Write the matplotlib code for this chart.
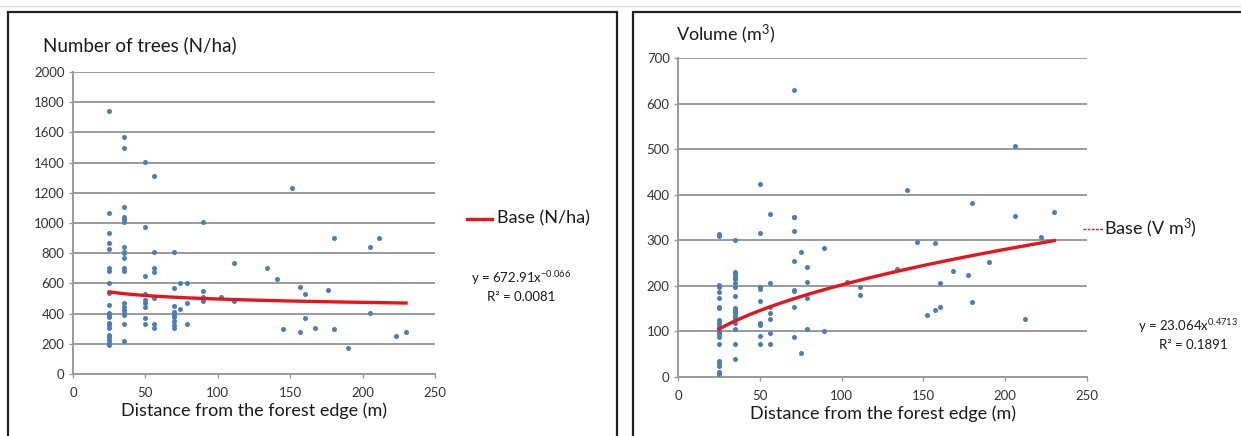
import matplotlib
matplotlib.use("Agg")
import matplotlib.pyplot as plt
from matplotlib.patches import Rectangle
from matplotlib.lines import Line2D
import numpy as np

plt.rcParams['font.family'] = ['Lato', 'DejaVu Sans']
plt.rcParams['mathtext.fontset'] = 'custom'
plt.rcParams['mathtext.rm'] = 'Lato'
plt.rcParams['mathtext.it'] = 'Lato:italic'
plt.rcParams['mathtext.bf'] = 'Lato:bold'
plt.rcParams['mathtext.default'] = 'regular'

# ---- Data: Number of trees (N/ha) vs distance ----
n_x25 = [1740, 1068, 935, 869, 827, 700, 684, 604, 534, 457, 406, 393, 379, 336, 324, 306, 258, 243, 225, 207, 190]
n_x35 = [1571, 1498, 1108, 1041, 1024, 1008, 843, 810, 799, 768, 700, 684, 472, 446, 425, 406, 391, 329, 220]
n_x50 = [1406, 975, 651, 528, 490, 468, 442, 369, 329]
n_x56 = [1309, 810, 700, 673, 505, 329, 302]
n_x70 = [810, 567, 452, 408, 390, 379, 353, 324, 302]
n_other_x = [74, 74, 79, 79, 79, 90, 90, 90, 90, 102, 111, 111, 134, 141, 145, 151, 157, 157, 160, 160,
             167, 176, 180, 180, 190, 205, 205, 211, 223, 230]
n_other_y = [604, 428, 604, 468, 329, 1008, 551, 512, 485, 512, 737, 485, 702, 627, 296, 1233, 578, 278, 528, 371,
             305, 554, 900, 296, 172, 843, 402, 900, 254, 278]

# ---- Data: Volume (m3) vs distance ----
v_x25 = [314, 309, 201, 198, 187, 173, 153, 151, 125, 118, 112, 99, 94, 88, 72, 36, 30, 24, 10, 7]
v_x35 = [301, 230, 226, 220, 214, 207, 198, 178, 151, 147, 143, 140, 134, 129, 118, 105, 72, 39]
v_x50 = [424, 315, 197, 194, 167, 118, 114, 90, 72]
v_x56 = [358, 207, 154, 141, 127, 96, 72]
v_x71 = [629, 352, 350, 321, 255, 191, 189, 154, 87]
v_other_x = [75, 75, 79, 79, 79, 79, 89, 89, 103, 111, 111, 134, 140, 146, 152, 157, 157, 160, 160,
             168, 177, 180, 180, 190, 206, 206, 212, 222, 230]
v_other_y = [275, 52, 241, 209, 173, 105, 284, 102, 208, 198, 181, 236, 410, 296, 135, 293, 147, 206, 153,
             233, 224, 381, 164, 252, 506, 353, 127, 307, 361]

# Trend parameters (power fits, as printed)
n_a, n_b = 672.91, -0.066
v_a, v_b = 23.064, 0.4713
trend_range = (25, 230)


def build(groups, ox, oy):
    xs, ys = [], []
    for xv, vals in groups:
        xs += [xv] * len(vals)
        ys += vals
    return xs + ox, ys + oy


nx, ny = build([(25, n_x25), (35, n_x35), (50, n_x50), (56, n_x56), (70, n_x70)], n_other_x, n_other_y)
vx, vy = build([(25, v_x25), (35, v_x35), (50, v_x50), (56, v_x56), (71, v_x71)], v_other_x, v_other_y)

W, H = 1241, 436
fig = plt.figure(figsize=(W / 100, H / 100), dpi=100)

# panel frames
fig.add_artist(Rectangle((8 / W, -0.05), (617 - 8) / W, 1.05 - 12 / H, transform=fig.transFigure,
                         fill=False, edgecolor='#222222', linewidth=1.6))
fig.add_artist(Rectangle((633 / W, -0.05), (1250 - 633) / W, 1.05 - 12 / H, transform=fig.transFigure,
                         fill=False, edgecolor='#222222', linewidth=1.6))
fig.add_artist(Line2D([0, 1], [1 - 6 / H, 1 - 6 / H], color='#dddddd', linewidth=1))

dot_color = '#4a7ebb'
red = '#e8141b'
grid_col = '#9a9a9a'
txt = '#1a1a1a'


def style(ax, ymax, ystep):
    ax.set_xlim(0, 250)
    ax.set_ylim(0, ymax)
    ax.set_xticks(np.arange(0, 251, 50))
    ax.set_yticks(np.arange(0, ymax + 1, ystep))
    ax.yaxis.grid(True, color=grid_col, linewidth=1.4)
    ax.set_axisbelow(True)
    for s in ['top', 'right']:
        ax.spines[s].set_visible(False)
    for s in ['left', 'bottom']:
        ax.spines[s].set_color(grid_col)
        ax.spines[s].set_linewidth(1.4)
    ax.tick_params(axis='both', labelsize=9.5, labelcolor='#333333', length=3, width=1, color=grid_col)
    ax.tick_params(axis='x', pad=6)
    ax.tick_params(axis='y', pad=3)
    ax.set_xlabel('Distance from the forest edge (m)', fontsize=13, labelpad=3, color=txt)


tx = np.linspace(*trend_range, 200)

# Left panel
ax1 = fig.add_axes([73 / W, 1 - 374 / H, (435 - 73) / W, (374 - 72) / H])
style(ax1, 2000, 200)
ax1.scatter(nx, ny, s=13, color=dot_color, zorder=3, linewidths=0)
ax1.plot(tx, n_a * tx ** n_b, color=red, linewidth=2.4, zorder=4)
fig.text(43 / W, 1 - 45 / H, 'Number of trees (N/ha)', fontsize=13.5, va='center', ha='left', color=txt)
fig.add_artist(Line2D([467 / W, 492 / W], [1 - 219 / H, 1 - 219 / H], color=red, linewidth=2.4))
fig.text(497 / W, 1 - 218 / H, 'Base (N/ha)', fontsize=13, va='center', ha='left', color=txt)
fig.text(521 / W, 1 - 278 / H, 'y = 672.91x$^{-0.066}$', fontsize=9.5, va='center', ha='center', color=txt)
fig.text(521 / W, 1 - 297 / H, 'R² = 0.0081', fontsize=9.5, va='center', ha='center', color=txt)

# Right panel
ax2 = fig.add_axes([678 / W, 1 - 377 / H, (1087 - 678) / W, (377 - 58) / H])
style(ax2, 700, 100)
ax2.scatter(vx, vy, s=13, color=dot_color, zorder=3, linewidths=0)
ax2.plot(tx, v_a * tx ** v_b, color=red, linewidth=2.4, zorder=4)
fig.text(676 / W, 1 - 34 / H, 'Volume (m$^3$)', fontsize=13, va='center', ha='left', color=txt)
fig.add_artist(Line2D([1083 / W, 1103 / W], [1 - 229 / H, 1 - 229 / H], color=red, linewidth=1,
                      linestyle=(0, (2, 1))))
fig.text(1104 / W, 1 - 228 / H, 'Base (V m$^3$)', fontsize=13, va='center', ha='left', color=txt)
fig.text(1188 / W, 1 - 326 / H, 'y = 23.064x$^{0.4713}$', fontsize=9.5, va='center', ha='center', color=txt)
fig.text(1193 / W, 1 - 345 / H, 'R² = 0.1891', fontsize=9.5, va='center', ha='center', color=txt)

fig.savefig('out.png', dpi=100)
